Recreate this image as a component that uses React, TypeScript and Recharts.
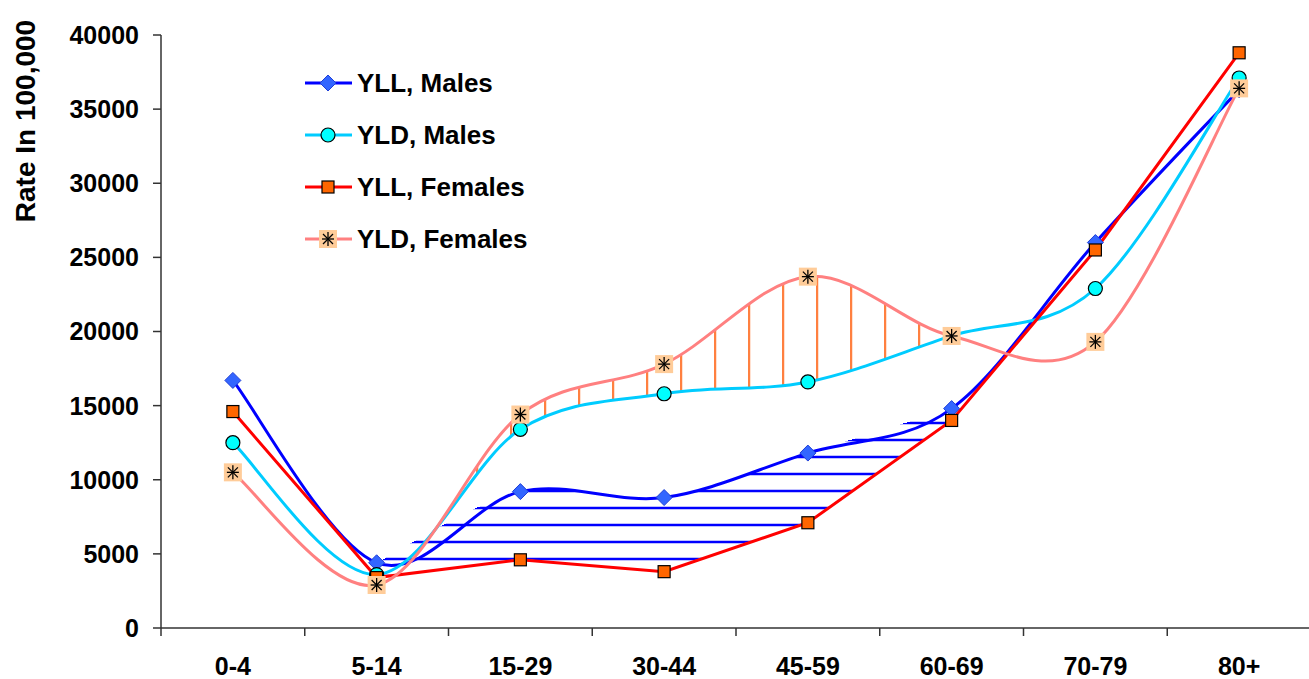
import { ComposedChart, Line, Area, XAxis, YAxis } from 'recharts';

const ageGroups = ['0-4', '5-14', '15-29', '30-44', '45-59', '60-69', '70-79', '80+'];
const yllMales = [16700, 4400, 9200, 8800, 11800, 14800, 26000, 36300];
const yldMales = [12500, 3600, 13400, 15800, 16600, 19700, 22900, 37100];
const yllFemales = [14600, 3400, 4600, 3800, 7100, 14000, 25500, 38800];
const yldFemales = [10500, 2900, 14400, 17800, 23700, 19700, 19300, 36400];
// age groups between which the YLL gap is hatched
const hatchFrom = '5-14';
const hatchTo = '60-69';
const yTicks = [0, 5000, 10000, 15000, 20000, 25000, 30000, 35000, 40000];

const legendItems = [
  { name: 'YLL, Males', color: '#0000FF', marker: 'diamond' },
  { name: 'YLD, Males', color: '#00CCFF', marker: 'circle' },
  { name: 'YLL, Females', color: '#FF0000', marker: 'square' },
  { name: 'YLD, Females', color: '#FF8080', marker: 'star' },
];

const FONT = '"Liberation Sans", Arial, sans-serif';
const AXIS = '#333';
const X_TICK_MARGIN = 10;

// Excel-like smoothed line (Catmull-Rom through the points)
class ExcelSmooth {
  _context: any;
  _line: number = NaN;
  _pts: number[][] = [];
  constructor(context: any) {
    this._context = context;
  }
  areaStart() { this._line = 0; }
  areaEnd() { this._line = NaN; }
  lineStart() { this._pts = []; }
  point(x: number, y: number) { this._pts.push([+x, +y]); }
  lineEnd() {
    const p = this._pts;
    const ctx = this._context;
    if (p.length) {
      if (this._line) ctx.lineTo(p[0][0], p[0][1]);
      else ctx.moveTo(p[0][0], p[0][1]);
      for (let i = 0; i < p.length - 1; i++) {
        const p0 = p[i - 1] || p[i];
        const p1 = p[i];
        const p2 = p[i + 1];
        const p3 = p[i + 2] || p[i + 1];
        ctx.bezierCurveTo(
          p1[0] + (p2[0] - p0[0]) / 6, p1[1] + (p2[1] - p0[1]) / 6,
          p2[0] - (p3[0] - p1[0]) / 6, p2[1] - (p3[1] - p1[1]) / 6,
          p2[0], p2[1],
        );
      }
    }
    if (this._line || (this._line !== 0 && p.length === 1)) ctx.closePath();
    this._line = 1 - this._line;
  }
}
const excelCurve: any = (context: any) => new ExcelSmooth(context);

const i0 = ageGroups.indexOf(hatchFrom);
const i1 = ageGroups.indexOf(hatchTo);
const inHatch = (i: number) => i >= i0 && i <= i1;

const data = ageGroups.map((age, i) => ({
  age,
  yllM: yllMales[i],
  yldM: yldMales[i],
  yllF: yllFemales[i],
  yldF: yldFemales[i],
  hYllM: inHatch(i) ? yllMales[i] : null,
  hYllF: inHatch(i) ? yllFemales[i] : null,
}));

const Diamond = ({ cx, cy }: any) => (
  <path d={`M${cx},${cy - 8}L${cx + 8},${cy}L${cx},${cy + 8}L${cx - 8},${cy}Z`} fill="#3366FF" stroke="#1f3fd8" strokeWidth={1} />
);
const Circ = ({ cx, cy }: any) => <circle cx={cx} cy={cy} r={7} fill="#00FFFF" stroke="#000" strokeWidth={1.2} />;
const Sq = ({ cx, cy }: any) => <rect x={cx - 6} y={cy - 6} width={12} height={12} fill="#FF6600" stroke="#000" strokeWidth={1.2} />;
const Star = ({ cx, cy }: any) => (
  <g>
    <rect x={cx - 9} y={cy - 9} width={18} height={18} fill="#FFCC99" />
    <g stroke="#000" strokeWidth={1.3}>
      <line x1={cx} y1={cy - 7} x2={cx} y2={cy + 7} />
      <line x1={cx - 6} y1={cy} x2={cx + 6} y2={cy} />
      <line x1={cx - 5} y1={cy - 5} x2={cx + 5} y2={cy + 5} />
      <line x1={cx + 5} y1={cy - 5} x2={cx - 5} y2={cy + 5} />
    </g>
  </g>
);

const markerFor = (m: string, cx: number, cy: number) => {
  if (m === 'diamond') return <Diamond cx={cx} cy={cy} />;
  if (m === 'circle') return <Circ cx={cx} cy={cy} />;
  if (m === 'square') return <Sq cx={cx} cy={cy} />;
  return <Star cx={cx} cy={cy} />;
};

const tickStyle = { fill: '#000', fontSize: 25, fontWeight: 'bold', fontFamily: FONT };

// category label centred in its band, tick mark on the band's left edge (Excel style)
const AgeTick = (props: any) => {
  const { x, y, payload } = props;
  const axisY = y - X_TICK_MARGIN;
  const off = payload && typeof payload.offset === 'number' ? payload.offset : 0;
  return (
    <g>
      <line x1={x - off} y1={axisY} x2={x - off} y2={axisY + 8} stroke={AXIS} strokeWidth={1.5} />
      <text x={x} y={axisY + 47} textAnchor="middle" {...tickStyle}>
        {payload.value}
      </text>
    </g>
  );
};

export default function App() {
  return (
    <div style={{ position: 'absolute', left: 0, top: 0, width: 1309, height: 679, overflow: 'hidden', background: '#fff' }}>
      <style>{'.hatch .recharts-area-area { shape-rendering: crispEdges; }'}</style>
      <ComposedChart width={1320} height={679} data={data} margin={{ top: 35, right: 9, bottom: 0, left: 0 }}>
        <defs>
          <pattern id="hatchH" width={10} height={17} patternUnits="userSpaceOnUse">
            <line x1={0} y1={15} x2={10} y2={15} stroke="#0000FF" strokeWidth={2.5} />
          </pattern>
          <pattern id="hatchV" width={34} height={10} patternUnits="userSpaceOnUse">
            <line x1={1} y1={0} x2={1} y2={10} stroke="#FF8040" strokeWidth={2.5} />
          </pattern>
        </defs>
        <XAxis
          dataKey="age"
          scale="band"
          height={51}
          axisLine={{ stroke: AXIS, strokeWidth: 1.5 }}
          tickLine={false}
          tickSize={0}
          tickMargin={X_TICK_MARGIN}
          interval={0}
          tick={<AgeTick />}
        />
        <YAxis
          domain={[0, 40000]}
          ticks={yTicks}
          interval={0}
          width={161}
          tickSize={8}
          tickMargin={14}
          axisLine={{ stroke: AXIS, strokeWidth: 1.5 }}
          tickLine={{ stroke: AXIS, strokeWidth: 1.5 }}
          tick={tickStyle}
        />
        <Area className="hatch" dataKey="yldF" type={excelCurve} baseValue={1000} stroke="none" fill="url(#hatchV)" fillOpacity={1} isAnimationActive={false} dot={false} activeDot={false} />
        <Area className="hatch" dataKey="yldM" type={excelCurve} baseValue={500} stroke="#fff" strokeWidth={1} fill="#fff" fillOpacity={1} isAnimationActive={false} dot={false} activeDot={false} />
        <Area className="hatch" dataKey="hYllM" type={excelCurve} baseValue={1000} stroke="none" fill="url(#hatchH)" fillOpacity={1} isAnimationActive={false} dot={false} activeDot={false} />
        <Area className="hatch" dataKey="hYllF" type="linear" baseValue={500} stroke="#fff" strokeWidth={2} fill="#fff" fillOpacity={1} isAnimationActive={false} dot={false} activeDot={false} />
        <Line dataKey="yllM" type={excelCurve} stroke="#0000FF" strokeWidth={3} isAnimationActive={false} activeDot={false}
          dot={(p: any) => <Diamond key={`dm${p.index}`} cx={p.cx} cy={p.cy} />} />
        <Line dataKey="yldM" type={excelCurve} stroke="#00CCFF" strokeWidth={3} isAnimationActive={false} activeDot={false}
          dot={(p: any) => <Circ key={`cm${p.index}`} cx={p.cx} cy={p.cy} />} />
        <Line dataKey="yllF" type="linear" stroke="#FF0000" strokeWidth={3} isAnimationActive={false} activeDot={false}
          dot={(p: any) => <Sq key={`sf${p.index}`} cx={p.cx} cy={p.cy} />} />
        <Line dataKey="yldF" type={excelCurve} stroke="#FF8080" strokeWidth={3} isAnimationActive={false} activeDot={false}
          dot={(p: any) => <Star key={`af${p.index}`} cx={p.cx} cy={p.cy} />} />
      </ComposedChart>
      <svg width={1309} height={679} style={{ position: 'absolute', left: 0, top: 0, pointerEvents: 'none' }}>
        <text x={35} y={121} transform="rotate(-90 35 121)" textAnchor="middle" fontFamily={FONT} fontWeight="bold" fontSize={28} fill="#000">
          Rate In 100,000
        </text>
        {legendItems.map((it, i) => {
          const y = 83 + i * 52;
          return (
            <g key={it.name}>
              <line x1={305} y1={y} x2={352} y2={y} stroke={it.color} strokeWidth={3} />
              {markerFor(it.marker, 328, y)}
              <text x={357} y={y + 9} fontFamily={FONT} fontWeight="bold" fontSize={26} fill="#000">
                {it.name}
              </text>
            </g>
          );
        })}
      </svg>
    </div>
  );
}
